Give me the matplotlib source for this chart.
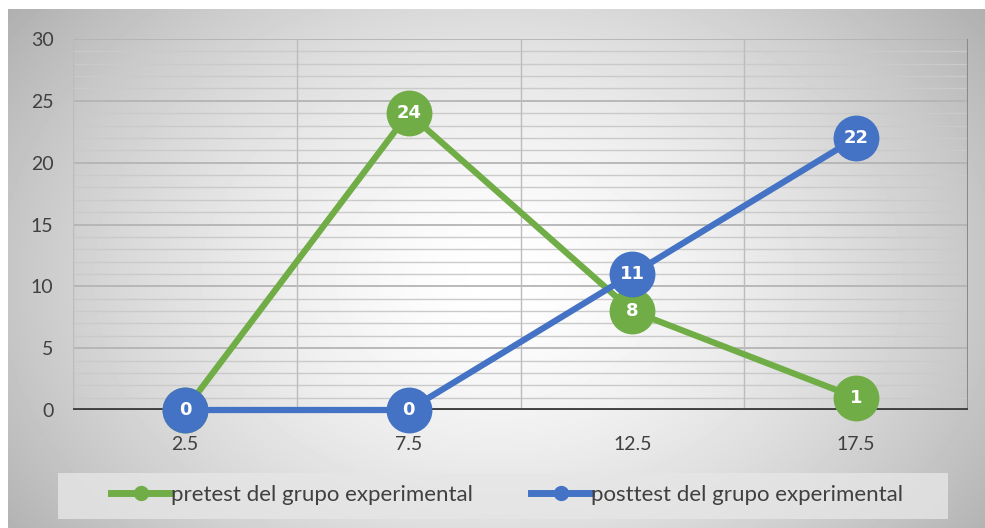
import numpy as np
import matplotlib
matplotlib.use("Agg")
from matplotlib import pyplot as plt
from matplotlib.lines import Line2D
from matplotlib.patches import Rectangle

categories = ["2.5", "7.5", "12.5", "17.5"]
pretest = [0, 24, 8, 1]
posttest = [0, 0, 11, 22]
yticks = [0, 5, 10, 15, 20, 25, 30]

green = "#70AD47"
blue = "#4472C4"
txt = "#404040"
plt.rcParams["font.family"] = ["Lato", "DejaVu Sans"]

W, H = 985, 528
fig = plt.figure(figsize=(W / 100, H / 100), dpi=100)

# radial gradient background of the chart area
bg = fig.add_axes([8 / W, 0, 1 - 8 / W, 1 - 9 / H])
yy, xx = np.mgrid[0:519, 0:977]
d = np.sqrt(((xx - 490) / 540.0) ** 2 + ((yy - 270) / 400.0) ** 2)
shade = 1.0 - 0.26 * np.clip(d, 0, 1.2) ** 1.5
bg.imshow(shade, cmap="gray", vmin=0, vmax=1, aspect="auto", interpolation="bilinear")
bg.set_axis_off()

ax = fig.add_axes([73 / W, (H - 410) / H, (968 - 73) / W, (410 - 39) / H])
ax.set_facecolor("none")
x = np.arange(len(categories))
ax.set_xlim(-0.5, len(categories) - 0.5)
ax.set_ylim(0, 30)

# gridlines
for v in range(1, 31):
    ax.axhline(v, color="#b4b4b4" if v % 5 == 0 else "#cacaca",
               lw=1.3 if v % 5 == 0 else 1.0, zorder=1)
for b in np.arange(-0.5, len(categories), 1.0):
    ax.axvline(b, color="#bcbcbc", lw=1.0, zorder=1)
ax.axvline(len(categories) - 0.5, color="#8a8a8a", lw=1.5, zorder=1)
ax.axhline(0, color="#404040", lw=2.8, zorder=2)

for s in ax.spines.values():
    s.set_visible(False)

ax.plot(x, pretest, color=green, lw=4.5, marker="o", markersize=32,
        solid_capstyle="round", zorder=3, clip_on=False)
ax.plot(x, posttest, color=blue, lw=4.5, marker="o", markersize=32,
        solid_capstyle="round", zorder=4, clip_on=False)
for xi, v in zip(x, pretest):
    ax.text(xi, v, str(v), color="white", fontsize=13, fontweight="bold",
            family="DejaVu Sans", ha="center", va="center", zorder=3.5)
for xi, v in zip(x, posttest):
    ax.text(xi, v, str(v), color="white", fontsize=13, fontweight="bold",
            family="DejaVu Sans", ha="center", va="center", zorder=4.5)

ax.set_xticks(x)
ax.set_xticklabels(categories)
ax.set_yticks(yticks)
ax.tick_params(axis="both", length=0, labelsize=14, labelcolor=txt)
ax.tick_params(axis="x", pad=19)
ax.tick_params(axis="y", pad=14)

# legend box
fig.patches.append(Rectangle((58 / W, (H - 519) / H), (948 - 58) / W, 46 / H,
                             transform=fig.transFigure, facecolor="#e6e6e6",
                             alpha=0.8, edgecolor="none", zorder=0))
handles = [
    Line2D([], [], color=green, lw=5, marker="o", markersize=10),
    Line2D([], [], color=blue, lw=5, marker="o", markersize=10),
]
leg = fig.legend(handles, ["pretest del grupo experimental", "posttest del grupo experimental"],
                 loc="center", bbox_to_anchor=(507 / W, (H - 495) / H), ncol=2,
                 frameon=False, fontsize=16, handlelength=2.7, handletextpad=0.0,
                 columnspacing=2.6)
for t in leg.get_texts():
    t.set_color(txt)

fig.savefig("out.png", dpi=100)
